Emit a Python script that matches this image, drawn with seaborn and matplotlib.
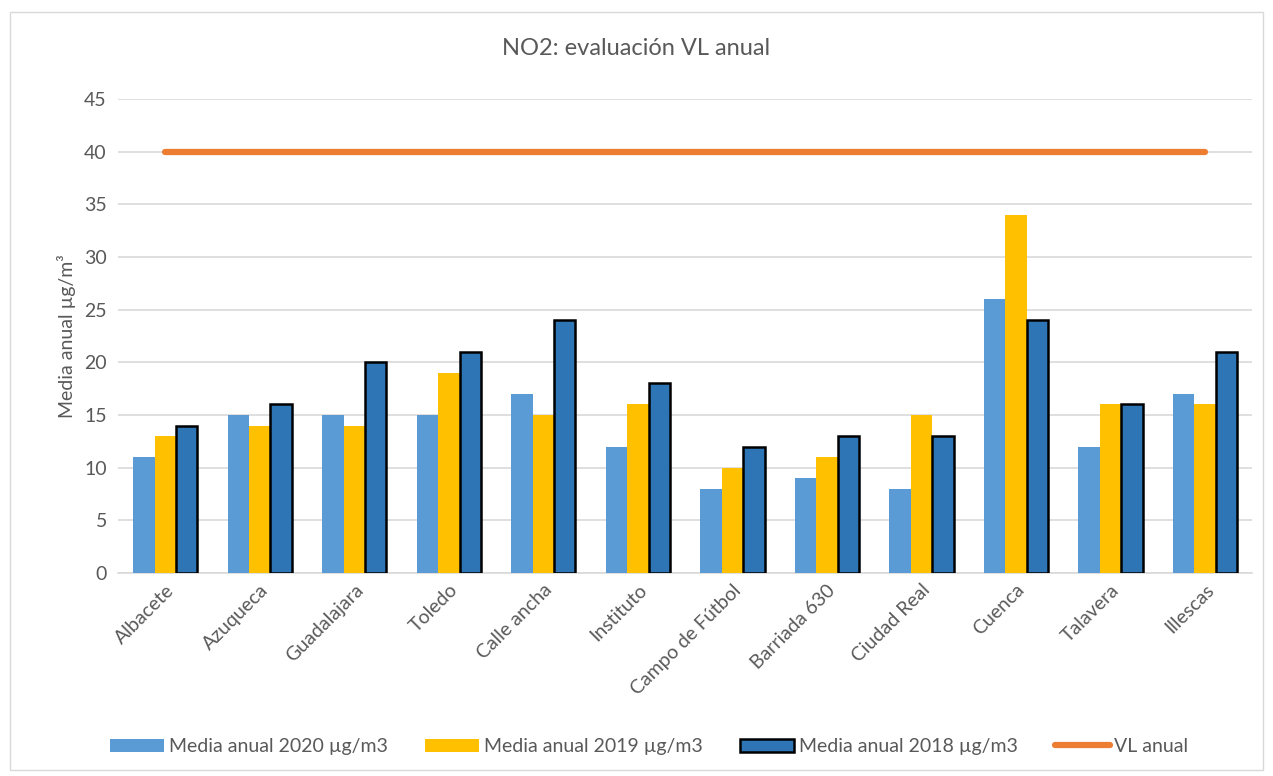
import numpy as np
import pandas as pd
import matplotlib
matplotlib.use("Agg")
import matplotlib.pyplot as plt
import seaborn as sns
from matplotlib.patches import Patch, Rectangle
from matplotlib.lines import Line2D

categories = ["Albacete", "Azuqueca", "Guadalajara", "Toledo", "Calle ancha", "Instituto",
              "Campo de Fútbol", "Barriada 630", "Ciudad Real", "Cuenca", "Talavera", "Illescas"]
media_2020 = [11, 15, 15, 15, 17, 12, 8, 9, 8, 26, 12, 17]
media_2019 = [13, 14, 14, 19, 15, 16, 10, 11, 15, 34, 16, 16]
media_2018 = [14, 16, 20, 21, 24, 18, 12, 13, 13, 24, 16, 21]
vl_anual = [40] * 12
series_names = ["Media anual 2020 µg/m3", "Media anual 2019 µg/m3", "Media anual 2018 µg/m3"]
colors = ["#5B9BD5", "#FFC000", "#2E75B6"]
vl_color = "#ED7D31"

sns.set_theme(style="white")
plt.rcParams['font.family'] = ['Lato', 'DejaVu Sans']
text_color = "#595959"
fs = 14

df = pd.DataFrame({
    "Estación": categories * 3,
    "Valor": media_2020 + media_2019 + media_2018,
    "Serie": [series_names[0]] * 12 + [series_names[1]] * 12 + [series_names[2]] * 12,
})

fig = plt.figure(figsize=(12.73, 7.76), dpi=100)
ax = fig.add_axes([0.0927, 0.2616, 0.891, 0.6108])

sns.barplot(data=df, x="Estación", y="Valor", hue="Serie", hue_order=series_names,
            palette=colors, width=0.68, gap=0, saturation=1, ax=ax, legend=False,
            linewidth=0, zorder=3)

# black outline for 2018 series
for container, name in zip(ax.containers, series_names):
    for bar in container:
        if name == series_names[2]:
            bar.set_edgecolor("black")
            bar.set_linewidth(1.8)
        else:
            bar.set_edgecolor("none")

sns.lineplot(x=np.arange(len(categories)), y=vl_anual, color=vl_color, linewidth=4.5,
             ax=ax, zorder=4, solid_capstyle="round")

ax.set_ylim(0, 45)
ax.set_xlim(-0.5, len(categories) - 0.5)
ax.set_yticks(np.arange(0, 46, 5))
ax.yaxis.grid(True, color="#D9D9D9", linewidth=1.2, zorder=0)
ax.xaxis.grid(False)
for s in ["top", "right", "left"]:
    ax.spines[s].set_visible(False)
ax.spines["bottom"].set_color("#D9D9D9")
ax.spines["bottom"].set_linewidth(1.2)
ax.tick_params(axis="both", length=0, labelsize=fs, colors=text_color, pad=8)
ax.tick_params(axis="x", pad=6)
ax.set_xticks(np.arange(len(categories)))
ax.set_xticklabels(categories, rotation=45, ha="right", rotation_mode="anchor")
ax.set_xlabel("")
ax.set_ylabel("Media anual µg/m³", fontsize=fs, color=text_color, labelpad=6)

fig.text(0.5, 0.938, "NO2: evaluación VL anual", ha="center", va="center",
         fontsize=17, color=text_color)

handles = [Patch(facecolor=colors[0], edgecolor="none"),
           Patch(facecolor=colors[1], edgecolor="none"),
           Patch(facecolor=colors[2], edgecolor="black", linewidth=1.8),
           Line2D([0], [0], color=vl_color, linewidth=4.5)]
labels = series_names + ["VL anual"]
leg = fig.legend(handles, labels, loc="center", bbox_to_anchor=(0.51, 0.038), ncol=4,
                 frameon=False, fontsize=fs, handlelength=2.8, handleheight=0.65,
                 handletextpad=0.25, columnspacing=1.9)
for t in leg.get_texts():
    t.set_color(text_color)

fig.patches.append(Rectangle((0.008, 0.008), 0.984, 0.977, transform=fig.transFigure,
                             fill=False, edgecolor="#D9D9D9", linewidth=1))

fig.savefig("out.png", dpi=100)
